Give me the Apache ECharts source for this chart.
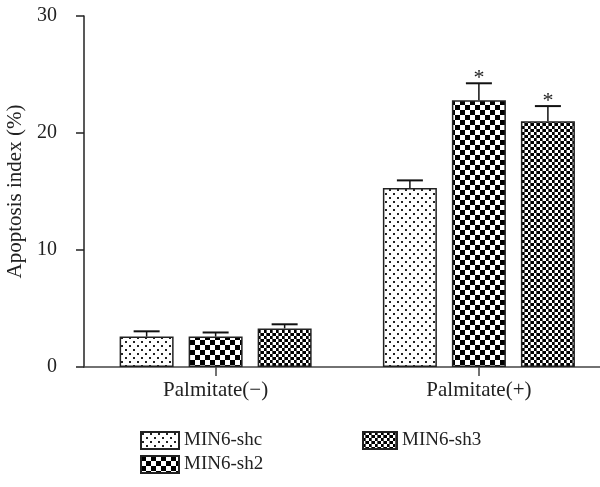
<!DOCTYPE html>
<html>
<head>
<meta charset="utf-8">
<script src="https://cdn.jsdelivr.net/npm/echarts@6/dist/echarts.min.js"></script>
<style>html,body{margin:0;padding:0;background:#fff}#c{width:600px;height:487px}</style>
</head>
<body>
<div id="c"></div>
<script>
const categories = ['Palmitate(\u2212)', 'Palmitate(+)'];
const seriesNames = ['MIN6-shc', 'MIN6-sh2', 'MIN6-sh3'];
const shcValues = [2.6, 15.3];
const sh2Values = [2.6, 22.8];
const sh3Values = [3.3, 21.0];
const shcErrors = [0.45, 0.65];
const sh2Errors = [0.35, 1.45];
const sh3Errors = [0.35, 1.3];
const shcStars = [false, false];
const sh2Stars = [false, true];
const sh3Stars = [false, true];
const yTicks = [0, 10, 20, 30];

function makePattern(kind) {
  const c = document.createElement('canvas');
  const ctx = c.getContext('2d');
  if (kind === 'dots') {
    c.width = 8; c.height = 8;
    ctx.fillStyle = '#fff'; ctx.fillRect(0, 0, 8, 8);
    ctx.fillStyle = '#222';
    ctx.fillRect(1, 1, 2, 2);
    ctx.fillRect(5, 5, 2, 2);
  } else if (kind === 'checker') {
    c.width = 10; c.height = 10;
    ctx.fillStyle = '#fff'; ctx.fillRect(0, 0, 10, 10);
    ctx.fillStyle = '#000';
    ctx.fillRect(0, 0, 5, 5);
    ctx.fillRect(5, 5, 5, 5);
  } else {
    c.width = 6; c.height = 6;
    ctx.fillStyle = '#fff'; ctx.fillRect(0, 0, 6, 6);
    ctx.fillStyle = '#000';
    ctx.fillRect(0, 0, 3, 3);
    ctx.fillRect(3, 3, 3, 3);
    ctx.fillStyle = '#555';
    ctx.fillRect(2, 0, 1, 6);
  }
  return { image: c, repeat: 'repeat' };
}

const patterns = [makePattern('dots'), makePattern('checker'), makePattern('fine')];
const valuesList = [shcValues, sh2Values, sh3Values];
const errorsList = [shcErrors, sh2Errors, sh3Errors];
const starsList = [shcStars, sh2Stars, sh3Stars];

const BAR_W = 54, BAR_GAP = 15;
const serif = '"Liberation Serif", "DejaVu Serif", serif';

const barSeries = seriesNames.map((name, i) => ({
  name: name,
  type: 'bar',
  data: valuesList[i].map((v, k) => [k, v]),
  barWidth: BAR_W,
  barGap: (BAR_GAP / BAR_W * 100).toFixed(1) + '%',
  itemStyle: { color: patterns[i], borderColor: '#222', borderWidth: 1.5 },
  emphasis: { disabled: true },
  silent: true
}));

const errData = [];
for (let s = 0; s < 3; s++) {
  for (let k = 0; k < categories.length; k++) {
    errData.push([k, valuesList[s][k], errorsList[s][k], s, starsList[s][k] ? 1 : 0]);
  }
}

const errSeries = {
  type: 'custom',
  silent: true,
  z: 5,
  data: errData,
  encode: { x: 0, y: 1 },
  renderItem: function (params, api) {
    const k = api.value(0), v = api.value(1), e = api.value(2), s = api.value(3), star = api.value(4);
    const off = (s - 1) * (BAR_W + BAR_GAP);
    const top = api.coord([k, v + e]);
    const base = api.coord([k, v]);
    const x = top[0] + off;
    const children = [
      { type: 'line', shape: { x1: x, y1: base[1], x2: x, y2: top[1] }, style: { stroke: '#111', lineWidth: 1.5 } },
      { type: 'line', shape: { x1: x - 13, y1: top[1], x2: x + 13, y2: top[1] }, style: { stroke: '#111', lineWidth: 2 } }
    ];
    if (star) {
      children.push({ type: 'text', style: { text: '*', x: x, y: top[1] - 5, textAlign: 'center', textVerticalAlign: 'middle', font: '22px ' + serif, fill: '#222' } });
    }
    return { type: 'group', children: children };
  }
};

const legendText = { fontFamily: serif, fontSize: 19, color: '#222' };

const chart = echarts.init(document.getElementById('c'), null, { renderer: 'canvas' });
chart.setOption({
  animation: false,
  backgroundColor: '#fff',
  grid: { left: 84, top: 16, right: 0, height: 351, containLabel: false, outerBoundsMode: 'none' },
  legend: [
    { orient: 'vertical', left: 140, top: 431, padding: 0, itemWidth: 38, itemHeight: 17, itemGap: 5, icon: 'rect',
      data: [seriesNames[0], seriesNames[1]], selectedMode: false, textStyle: legendText },
    { orient: 'vertical', left: 362, top: 431, padding: 0, itemWidth: 34, itemHeight: 17, itemGap: 5, icon: 'rect',
      data: [seriesNames[2]], selectedMode: false, textStyle: legendText }
  ],
  xAxis: {
    type: 'value',
    min: -0.5, max: 1.46,
    axisLine: { onZero: false, lineStyle: { color: '#444', width: 1.5 } },
    axisTick: { show: true, customValues: [0, 1], length: 9, lineStyle: { color: '#444', width: 1.5 } },
    axisLabel: { customValues: [0, 1], fontFamily: serif, fontSize: 21, color: '#222', margin: 13,
      formatter: function (v) { return categories[Math.round(v)] || ''; } },
    splitLine: { show: false }
  },
  yAxis: {
    type: 'value',
    min: yTicks[0], max: yTicks[yTicks.length - 1], interval: 10,
    name: 'Apoptosis index (%)',
    nameLocation: 'middle', nameGap: 48,
    nameTextStyle: { fontFamily: serif, fontSize: 21, color: '#222' },
    axisLine: { show: true, onZero: false, lineStyle: { color: '#222', width: 1.5 } },
    axisTick: { show: true, length: 8, lineStyle: { color: '#222', width: 1.5 } },
    axisLabel: { fontFamily: serif, fontSize: 20, color: '#222', margin: 27 },
    splitLine: { show: false }
  },
  series: barSeries.concat([errSeries])
});
</script>
</body>
</html>
